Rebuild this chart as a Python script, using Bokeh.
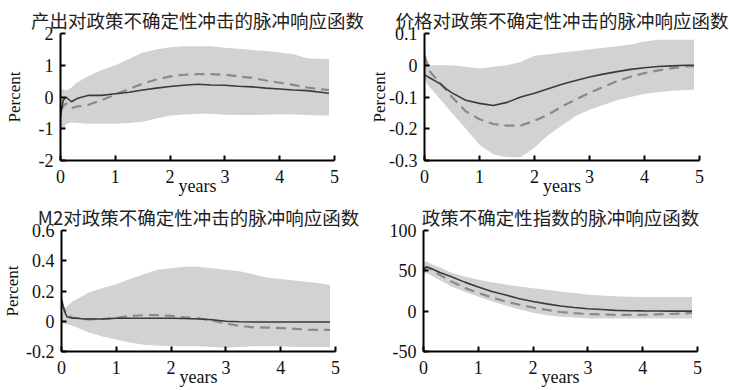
from bokeh.plotting import figure
from bokeh.layouts import column, row
from bokeh.models import Range1d, FixedTicker, CustomJSTickFormatter
from bokeh.embed import file_html
from bokeh.resources import INLINE

X = [0, 0.05, 0.1, 0.2, 0.3, 0.4, 0.5, 0.75, 1.0, 1.25, 1.5, 1.75, 2.0, 2.25,
     2.5, 2.75, 3.0, 3.25, 3.5, 3.75, 4.0, 4.25, 4.5, 4.75, 4.9]
X_TICKS = [0, 1, 2, 3, 4, 5]

# Panel 1: output
TITLE1 = "产出对政策不确定性冲击的脉冲响应函数"
UPPER1 = [0.2, 0.25, 0.2, 0.3, 0.45, 0.55, 0.65, 0.85, 1.0, 1.2, 1.4, 1.5, 1.57, 1.6,
          1.6, 1.6, 1.55, 1.52, 1.48, 1.45, 1.4, 1.35, 1.22, 1.2, 1.2]
LOWER1 = [-1.0, -1.05, -0.85, -0.8, -0.82, -0.83, -0.84, -0.84, -0.84, -0.82, -0.78, -0.68,
          -0.58, -0.55, -0.53, -0.53, -0.56, -0.57, -0.57, -0.56, -0.54, -0.55, -0.57, -0.58, -0.58]
SOLID1 = [-0.6, -0.1, 0.0, -0.15, -0.05, 0.0, 0.05, 0.05, 0.1, 0.15, 0.22, 0.28, 0.33, 0.37,
          0.4, 0.38, 0.37, 0.34, 0.32, 0.28, 0.25, 0.22, 0.2, 0.15, 0.12]
DASH1 = [-0.4, -0.3, -0.2, -0.35, -0.3, -0.28, -0.25, -0.1, 0.08, 0.25, 0.42, 0.55, 0.65, 0.7,
         0.72, 0.72, 0.7, 0.65, 0.6, 0.52, 0.45, 0.38, 0.3, 0.24, 0.22]
Y_TICKS1 = [-2, -1, 0, 1, 2]

# Panel 2: price
TITLE2 = "价格对政策不确定性冲击的脉冲响应函数"
UPPER2 = [0.04, 0.02, 0.0, 0.0, 0.0, 0.0, 0.0, -0.005, -0.01, -0.005, 0.0, 0.01, 0.03, 0.035,
          0.04, 0.045, 0.05, 0.055, 0.06, 0.065, 0.075, 0.08, 0.08, 0.08, 0.08]
LOWER2 = [-0.04, -0.06, -0.07, -0.09, -0.11, -0.13, -0.15, -0.2, -0.25, -0.28, -0.29, -0.29,
          -0.26, -0.22, -0.19, -0.16, -0.14, -0.125, -0.11, -0.1, -0.09, -0.085, -0.08, -0.078, -0.077]
SOLID2 = [-0.03, -0.035, -0.04, -0.05, -0.06, -0.075, -0.087, -0.11, -0.12, -0.127, -0.117, -0.1,
          -0.088, -0.074, -0.06, -0.048, -0.037, -0.028, -0.02, -0.013, -0.008, -0.004, -0.002, 0.0, 0.0]
DASH2 = [0.03, 0.0, -0.02, -0.04, -0.06, -0.08, -0.1, -0.145, -0.17, -0.185, -0.19, -0.19,
         -0.175, -0.155, -0.13, -0.108, -0.087, -0.068, -0.05, -0.036, -0.025, -0.016, -0.009, -0.004, -0.003]
Y_TICKS2 = [-0.3, -0.2, -0.1, 0, 0.1]

# Panel 3: M2
TITLE3 = "M2对政策不确定性冲击的脉冲响应函数"
UPPER3 = [0.05, 0.08, 0.1, 0.13, 0.15, 0.17, 0.19, 0.22, 0.245, 0.28, 0.31, 0.34, 0.35, 0.36,
          0.36, 0.35, 0.34, 0.33, 0.31, 0.29, 0.28, 0.27, 0.26, 0.25, 0.24]
LOWER3 = [-0.01, -0.015, -0.02, -0.03, -0.045, -0.06, -0.075, -0.1, -0.12, -0.14, -0.155, -0.16,
          -0.165, -0.165, -0.165, -0.17, -0.175, -0.17, -0.165, -0.165, -0.165, -0.17, -0.17, -0.17, -0.17]
SOLID3 = [0.15, 0.07, 0.03, 0.02, 0.02, 0.015, 0.015, 0.015, 0.02, 0.02, 0.02, 0.02, 0.02, 0.018,
          0.015, 0.01, 0.0, -0.003, -0.005, -0.005, -0.005, -0.005, -0.005, -0.005, -0.005]
DASH3 = [0.12, 0.08, 0.04, 0.025, 0.02, 0.015, 0.012, 0.015, 0.022, 0.035, 0.04, 0.04, 0.035, 0.025,
         0.02, 0.005, -0.015, -0.03, -0.04, -0.042, -0.045, -0.05, -0.055, -0.057, -0.057]
Y_TICKS3 = [-0.2, 0, 0.2, 0.4, 0.6]

# Panel 4: uncertainty index
TITLE4 = "政策不确定性指数的脉冲响应函数"
UPPER4 = [60, 62, 60, 57, 54, 51, 48, 43, 39, 36, 33, 30.5, 28.5, 26.5, 24.5, 22.5, 20.5, 19.5,
          18.5, 18, 17.5, 17.5, 17.5, 17.5, 17.5]
LOWER4 = [45, 47, 46, 42, 38, 35, 31, 24, 18, 12, 7, 2, -2, -5, -7, -8, -9, -9, -9, -9, -9, -9,
          -9, -9, -9]
SOLID4 = [52, 55, 54, 51, 48, 45.5, 43, 36, 30, 24.5, 20, 15.5, 12, 9, 6.5, 4.5, 3, 2, 1, 0.5,
          0.3, 0.2, 0.1, 0, 0]
DASH4 = [50, 54, 53, 49, 45, 41, 37, 29, 22.5, 17, 12, 8, 4.5, 1.5, -1, -2.5, -3.5, -4, -4.5,
         -4.5, -4.5, -4, -3.5, -3, -2]
Y_TICKS4 = [-50, 0, 50, 100]

SERIF = "Liberation Serif"
CJK = "Noto Sans CJK SC"
FMT = "return String(Math.round(tick*100)/100);"


def panel(title, upper, lower, solid, dash, yticks, ylabel, ylab_standoff,
          w, h, bl, br, bt, bb):
    p = figure(width=w, height=h, output_backend="svg", toolbar_location=None,
               x_range=Range1d(0, 5), y_range=Range1d(yticks[0], yticks[-1]),
               min_border_left=bl, min_border_right=br, min_border_top=bt,
               min_border_bottom=bb, title=title)
    p.title.text_font = CJK
    p.title.text_font_size = "18.5px"
    p.title.text_font_style = "normal"
    p.title.align = "center"
    p.title.standoff = 2
    p.title.text_color = "#222222"
    p.outline_line_color = None
    p.grid.visible = False
    p.background_fill_color = "white"
    p.border_fill_color = "white"

    p.varea(x=X, y1=lower, y2=upper, fill_color="#d2d2d2")
    p.line(X, dash, line_color="#8a8a8a", line_width=2.2, line_dash="10 6")
    p.line(X, solid, line_color="#3a3a3a", line_width=1.6)

    p.xaxis.ticker = FixedTicker(ticks=X_TICKS)
    p.yaxis.ticker = FixedTicker(ticks=yticks)
    p.xaxis.formatter = CustomJSTickFormatter(code=FMT)
    p.yaxis.formatter = CustomJSTickFormatter(code=FMT)
    for ax in (p.xaxis[0], p.yaxis[0]):
        ax.axis_line_width = 2
        ax.axis_line_color = "black"
        ax.major_tick_in = 5
        ax.major_tick_out = 0
        ax.major_tick_line_width = 2
        ax.minor_tick_line_color = None
        ax.major_label_text_font = SERIF
        ax.major_label_text_font_size = "18px"
        ax.major_label_text_color = "#111111"
        ax.axis_label_text_font = SERIF
        ax.axis_label_text_font_style = "normal"
        ax.axis_label_text_color = "#111111"
    p.xaxis.major_label_standoff = 9
    p.yaxis.major_label_standoff = 7
    p.xaxis.axis_label = "years"
    p.xaxis.axis_label_text_font_size = "18px"
    p.xaxis.axis_label_standoff = -10
    if ylabel:
        p.yaxis.axis_label = ylabel
        p.yaxis.axis_label_text_font_size = "17px"
        p.yaxis.axis_label_standoff = ylab_standoff
    return p


p1 = panel(TITLE1, UPPER1, LOWER1, SOLID1, DASH1, Y_TICKS1, "Percent", 12, 364, 200, 60, 30, 33, 40)
p2 = panel(TITLE2, UPPER2, LOWER2, SOLID2, DASH2, Y_TICKS2, "Percent", -3, 365, 200, 60, 30, 33, 40)
p3 = panel(TITLE3, UPPER3, LOWER3, SOLID3, DASH3, Y_TICKS3, "Percent", 1, 364, 190, 60, 29, 28, 38)
p4 = panel(TITLE4, UPPER4, LOWER4, SOLID4, DASH4, Y_TICKS4, None, 0, 365, 190, 59, 32, 28, 39)

layout = column(row(p1, p2), row(p3, p4))
open("out.html", "w").write(file_html(layout, INLINE))
